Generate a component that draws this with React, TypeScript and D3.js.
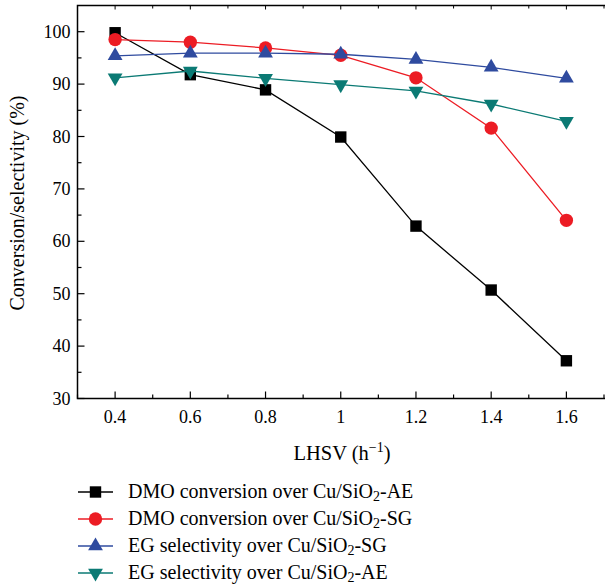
import React from 'react';
import * as d3 from 'd3';

// LHSV (h^-1) values
const lhsv = [0.4, 0.6, 0.8, 1.0, 1.2, 1.4, 1.6];

// series values (%)
const dmoConvAE = [99.8, 91.8, 88.9, 79.9, 62.9, 50.7, 37.2];
const dmoConvSG = [98.5, 98.0, 96.9, 95.5, 91.2, 81.6, 64.0];
const egSelSG = [95.4, 95.9, 95.9, 95.7, 94.7, 93.2, 91.1];
const egSelAE = [91.2, 92.5, 91.1, 89.9, 88.7, 86.2, 82.9];

const xTicks = [0.4, 0.6, 0.8, 1.0, 1.2, 1.4, 1.6];
const xTickLabels = ['0.4', '0.6', '0.8', '1', '1.2', '1.4', '1.6'];
const yTicks = [30, 40, 50, 60, 70, 80, 90, 100];

const series = [
  { name: 'DMO conversion over Cu/SiO', suffix: '-AE', values: dmoConvAE, color: '#000000', symbol: d3.symbolSquare, size: 130, rot: 0 },
  { name: 'DMO conversion over Cu/SiO', suffix: '-SG', values: dmoConvSG, color: '#ec1c24', symbol: d3.symbolCircle, size: 140, rot: 0 },
  { name: 'EG selectivity over Cu/SiO', suffix: '-SG', values: egSelSG, color: '#2f4b9f', symbol: d3.symbolTriangle, size: 95, rot: 0 },
  { name: 'EG selectivity over Cu/SiO', suffix: '-AE', values: egSelAE, color: '#0b7a74', symbol: d3.symbolTriangle, size: 95, rot: 180 },
];

const W = 605;
const H = 586;
const left = 77.5;
const right = 605.5;
const top = 5.5;
const bottom = 398.5;
const font = '"Liberation Serif", "DejaVu Serif", serif';

export default function App() {
  const x = d3.scaleLinear().domain([0.3, 1.7]).range([left, 604]);
  const y = d3.scaleLinear().domain([30, 105]).range([bottom, top]);

  const line = d3
    .line<number>()
    .x((_, i) => x(lhsv[i]))
    .y(d => y(d));

  const xMinor = d3.range(0.3, 1.75, 0.1).filter(v => !xTicks.some(t => Math.abs(t - v) < 1e-6));
  const yMinor = d3.range(35, 105, 10);

  return (
    <svg
      width={W}
      height={H}
      style={{ position: 'absolute', left: 0, top: 0, background: '#fff' }}
      fontFamily={font}
    >
      {/* data */}
      {series.map((s, k) => (
        <g key={k}>
          <path d={line(s.values) || ''} fill="none" stroke={s.color} strokeWidth={1.3} />
          {s.values.map((v, i) => (
            <path
              key={i}
              d={d3.symbol().type(s.symbol).size(s.size)() || ''}
              transform={`translate(${x(lhsv[i])},${y(v)}) rotate(${s.rot})`}
              fill={s.color}
            />
          ))}
        </g>
      ))}

      {/* frame */}
      <path
        d={`M${right},${top}H${left}V${bottom}H${right}`}
        fill="none"
        stroke="#000"
        strokeWidth={1.5}
      />

      {/* x ticks, bottom and top */}
      {xTicks.map((t, i) => (
        <g key={'xt' + i}>
          <line x1={x(t)} x2={x(t)} y1={bottom} y2={bottom - 7} stroke="#000" strokeWidth={1.2} />
          <line x1={x(t)} x2={x(t)} y1={top} y2={top + 4} stroke="#000" strokeWidth={1} />
          <text x={x(t)} y={bottom + 24.5} fontSize={18} textAnchor="middle">
            {xTickLabels[i]}
          </text>
        </g>
      ))}
      {xMinor.map((t, i) => (
        <g key={'xm' + i}>
          <line x1={x(t)} x2={x(t)} y1={bottom} y2={bottom - 4} stroke="#000" strokeWidth={1.2} />
          <line x1={x(t)} x2={x(t)} y1={top} y2={top + 3} stroke="#000" strokeWidth={1} />
        </g>
      ))}

      {/* y ticks */}
      {yTicks.map((t, i) => (
        <g key={'yt' + i}>
          <line x1={left} x2={left + 7} y1={y(t)} y2={y(t)} stroke="#000" strokeWidth={1.2} />
          <text x={left - 7} y={y(t) + 6} fontSize={18} textAnchor="end">
            {t}
          </text>
        </g>
      ))}
      {yMinor.map((t, i) => (
        <line key={'ym' + i} x1={left} x2={left + 4} y1={y(t)} y2={y(t)} stroke="#000" strokeWidth={1.2} />
      ))}

      {/* axis titles */}
      <text x={342} y={460} fontSize={20.5} textAnchor="middle">
        LHSV (h
        <tspan fontSize={14} dy={-8}>
          −1
        </tspan>
        <tspan dy={8}>)</tspan>
      </text>
      <text transform="translate(24,203) rotate(-90)" fontSize={20} textAnchor="middle">
        Conversion/selectivity (%)
      </text>

      {/* legend */}
      {series.map((s, k) => {
        const ly = 492 + k * 27;
        return (
          <g key={'lg' + k}>
            <line x1={78} x2={113} y1={ly} y2={ly} stroke={s.color} strokeWidth={1.3} />
            <path
              d={d3.symbol().type(s.symbol).size(s.size)() || ''}
              transform={`translate(95.5,${ly}) rotate(${s.rot})`}
              fill={s.color}
            />
            <text x={128} y={ly + 6} fontSize={20}>
              {s.name}
              <tspan fontSize={14} dy={3}>
                2
              </tspan>
              <tspan dy={-3}>{s.suffix}</tspan>
            </text>
          </g>
        );
      })}
    </svg>
  );
}
